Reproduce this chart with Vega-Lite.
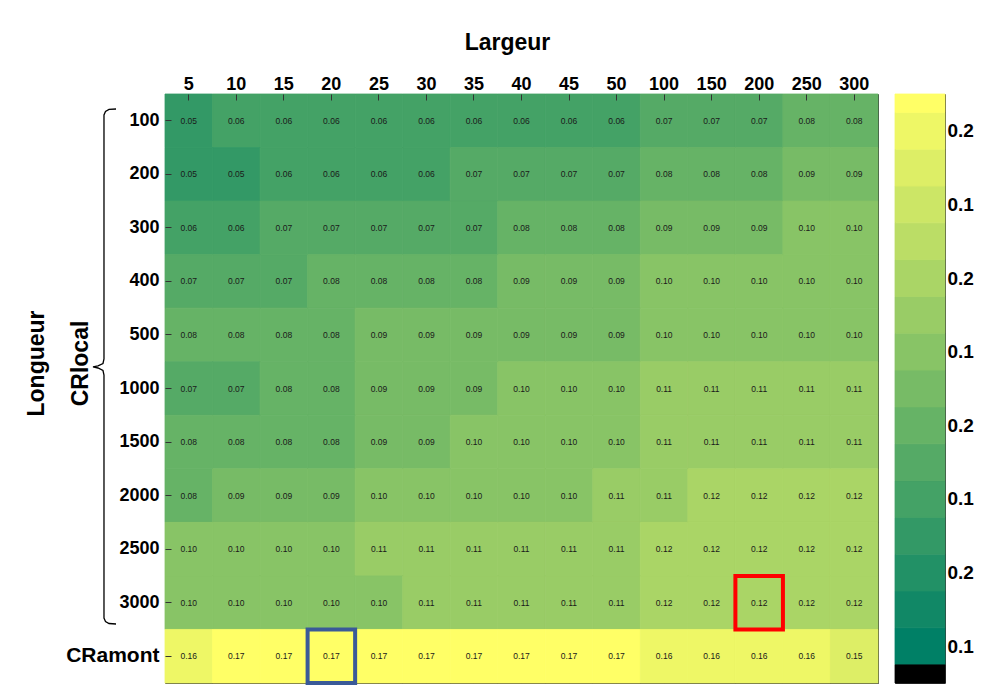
{
  "$schema": "https://vega.github.io/schema/vega-lite/v6.json",
  "padding": {"left": 24, "top": 30, "right": 0, "bottom": 0},
  "background": "white",
  "config": {
    "font": "Liberation Sans",
    "view": {"stroke": "#3a3a3a", "strokeWidth": 1},
    "axis": {"domain": false, "grid": false, "tickColor": "#333333", "tickWidth": 1, "labelColor": "#000000", "titleColor": "#000000", "labelFont": "Liberation Sans", "titleFont": "Liberation Sans", "labelFontWeight": "bold", "titleFontWeight": "bold"}
  },
  "datasets": {
    "cellules": [
      {"Longueur":"100","Largeur":"5","CR":0.05},{"Longueur":"100","Largeur":"10","CR":0.06},{"Longueur":"100","Largeur":"15","CR":0.06},{"Longueur":"100","Largeur":"20","CR":0.06},{"Longueur":"100","Largeur":"25","CR":0.06},{"Longueur":"100","Largeur":"30","CR":0.06},{"Longueur":"100","Largeur":"35","CR":0.06},{"Longueur":"100","Largeur":"40","CR":0.06},{"Longueur":"100","Largeur":"45","CR":0.06},{"Longueur":"100","Largeur":"50","CR":0.06},{"Longueur":"100","Largeur":"100","CR":0.07},{"Longueur":"100","Largeur":"150","CR":0.07},{"Longueur":"100","Largeur":"200","CR":0.07},{"Longueur":"100","Largeur":"250","CR":0.08},{"Longueur":"100","Largeur":"300","CR":0.08},
      {"Longueur":"200","Largeur":"5","CR":0.05},{"Longueur":"200","Largeur":"10","CR":0.05},{"Longueur":"200","Largeur":"15","CR":0.06},{"Longueur":"200","Largeur":"20","CR":0.06},{"Longueur":"200","Largeur":"25","CR":0.06},{"Longueur":"200","Largeur":"30","CR":0.06},{"Longueur":"200","Largeur":"35","CR":0.07},{"Longueur":"200","Largeur":"40","CR":0.07},{"Longueur":"200","Largeur":"45","CR":0.07},{"Longueur":"200","Largeur":"50","CR":0.07},{"Longueur":"200","Largeur":"100","CR":0.08},{"Longueur":"200","Largeur":"150","CR":0.08},{"Longueur":"200","Largeur":"200","CR":0.08},{"Longueur":"200","Largeur":"250","CR":0.09},{"Longueur":"200","Largeur":"300","CR":0.09},
      {"Longueur":"300","Largeur":"5","CR":0.06},{"Longueur":"300","Largeur":"10","CR":0.06},{"Longueur":"300","Largeur":"15","CR":0.07},{"Longueur":"300","Largeur":"20","CR":0.07},{"Longueur":"300","Largeur":"25","CR":0.07},{"Longueur":"300","Largeur":"30","CR":0.07},{"Longueur":"300","Largeur":"35","CR":0.07},{"Longueur":"300","Largeur":"40","CR":0.08},{"Longueur":"300","Largeur":"45","CR":0.08},{"Longueur":"300","Largeur":"50","CR":0.08},{"Longueur":"300","Largeur":"100","CR":0.09},{"Longueur":"300","Largeur":"150","CR":0.09},{"Longueur":"300","Largeur":"200","CR":0.09},{"Longueur":"300","Largeur":"250","CR":0.10},{"Longueur":"300","Largeur":"300","CR":0.10},
      {"Longueur":"400","Largeur":"5","CR":0.07},{"Longueur":"400","Largeur":"10","CR":0.07},{"Longueur":"400","Largeur":"15","CR":0.07},{"Longueur":"400","Largeur":"20","CR":0.08},{"Longueur":"400","Largeur":"25","CR":0.08},{"Longueur":"400","Largeur":"30","CR":0.08},{"Longueur":"400","Largeur":"35","CR":0.08},{"Longueur":"400","Largeur":"40","CR":0.09},{"Longueur":"400","Largeur":"45","CR":0.09},{"Longueur":"400","Largeur":"50","CR":0.09},{"Longueur":"400","Largeur":"100","CR":0.10},{"Longueur":"400","Largeur":"150","CR":0.10},{"Longueur":"400","Largeur":"200","CR":0.10},{"Longueur":"400","Largeur":"250","CR":0.10},{"Longueur":"400","Largeur":"300","CR":0.10},
      {"Longueur":"500","Largeur":"5","CR":0.08},{"Longueur":"500","Largeur":"10","CR":0.08},{"Longueur":"500","Largeur":"15","CR":0.08},{"Longueur":"500","Largeur":"20","CR":0.08},{"Longueur":"500","Largeur":"25","CR":0.09},{"Longueur":"500","Largeur":"30","CR":0.09},{"Longueur":"500","Largeur":"35","CR":0.09},{"Longueur":"500","Largeur":"40","CR":0.09},{"Longueur":"500","Largeur":"45","CR":0.09},{"Longueur":"500","Largeur":"50","CR":0.09},{"Longueur":"500","Largeur":"100","CR":0.10},{"Longueur":"500","Largeur":"150","CR":0.10},{"Longueur":"500","Largeur":"200","CR":0.10},{"Longueur":"500","Largeur":"250","CR":0.10},{"Longueur":"500","Largeur":"300","CR":0.10},
      {"Longueur":"1000","Largeur":"5","CR":0.07},{"Longueur":"1000","Largeur":"10","CR":0.07},{"Longueur":"1000","Largeur":"15","CR":0.08},{"Longueur":"1000","Largeur":"20","CR":0.08},{"Longueur":"1000","Largeur":"25","CR":0.09},{"Longueur":"1000","Largeur":"30","CR":0.09},{"Longueur":"1000","Largeur":"35","CR":0.09},{"Longueur":"1000","Largeur":"40","CR":0.10},{"Longueur":"1000","Largeur":"45","CR":0.10},{"Longueur":"1000","Largeur":"50","CR":0.10},{"Longueur":"1000","Largeur":"100","CR":0.11},{"Longueur":"1000","Largeur":"150","CR":0.11},{"Longueur":"1000","Largeur":"200","CR":0.11},{"Longueur":"1000","Largeur":"250","CR":0.11},{"Longueur":"1000","Largeur":"300","CR":0.11},
      {"Longueur":"1500","Largeur":"5","CR":0.08},{"Longueur":"1500","Largeur":"10","CR":0.08},{"Longueur":"1500","Largeur":"15","CR":0.08},{"Longueur":"1500","Largeur":"20","CR":0.08},{"Longueur":"1500","Largeur":"25","CR":0.09},{"Longueur":"1500","Largeur":"30","CR":0.09},{"Longueur":"1500","Largeur":"35","CR":0.10},{"Longueur":"1500","Largeur":"40","CR":0.10},{"Longueur":"1500","Largeur":"45","CR":0.10},{"Longueur":"1500","Largeur":"50","CR":0.10},{"Longueur":"1500","Largeur":"100","CR":0.11},{"Longueur":"1500","Largeur":"150","CR":0.11},{"Longueur":"1500","Largeur":"200","CR":0.11},{"Longueur":"1500","Largeur":"250","CR":0.11},{"Longueur":"1500","Largeur":"300","CR":0.11},
      {"Longueur":"2000","Largeur":"5","CR":0.08},{"Longueur":"2000","Largeur":"10","CR":0.09},{"Longueur":"2000","Largeur":"15","CR":0.09},{"Longueur":"2000","Largeur":"20","CR":0.09},{"Longueur":"2000","Largeur":"25","CR":0.10},{"Longueur":"2000","Largeur":"30","CR":0.10},{"Longueur":"2000","Largeur":"35","CR":0.10},{"Longueur":"2000","Largeur":"40","CR":0.10},{"Longueur":"2000","Largeur":"45","CR":0.10},{"Longueur":"2000","Largeur":"50","CR":0.11},{"Longueur":"2000","Largeur":"100","CR":0.11},{"Longueur":"2000","Largeur":"150","CR":0.12},{"Longueur":"2000","Largeur":"200","CR":0.12},{"Longueur":"2000","Largeur":"250","CR":0.12},{"Longueur":"2000","Largeur":"300","CR":0.12},
      {"Longueur":"2500","Largeur":"5","CR":0.10},{"Longueur":"2500","Largeur":"10","CR":0.10},{"Longueur":"2500","Largeur":"15","CR":0.10},{"Longueur":"2500","Largeur":"20","CR":0.10},{"Longueur":"2500","Largeur":"25","CR":0.11},{"Longueur":"2500","Largeur":"30","CR":0.11},{"Longueur":"2500","Largeur":"35","CR":0.11},{"Longueur":"2500","Largeur":"40","CR":0.11},{"Longueur":"2500","Largeur":"45","CR":0.11},{"Longueur":"2500","Largeur":"50","CR":0.11},{"Longueur":"2500","Largeur":"100","CR":0.12},{"Longueur":"2500","Largeur":"150","CR":0.12},{"Longueur":"2500","Largeur":"200","CR":0.12},{"Longueur":"2500","Largeur":"250","CR":0.12},{"Longueur":"2500","Largeur":"300","CR":0.12},
      {"Longueur":"3000","Largeur":"5","CR":0.10},{"Longueur":"3000","Largeur":"10","CR":0.10},{"Longueur":"3000","Largeur":"15","CR":0.10},{"Longueur":"3000","Largeur":"20","CR":0.10},{"Longueur":"3000","Largeur":"25","CR":0.10},{"Longueur":"3000","Largeur":"30","CR":0.11},{"Longueur":"3000","Largeur":"35","CR":0.11},{"Longueur":"3000","Largeur":"40","CR":0.11},{"Longueur":"3000","Largeur":"45","CR":0.11},{"Longueur":"3000","Largeur":"50","CR":0.11},{"Longueur":"3000","Largeur":"100","CR":0.12},{"Longueur":"3000","Largeur":"150","CR":0.12},{"Longueur":"3000","Largeur":"200","CR":0.12},{"Longueur":"3000","Largeur":"250","CR":0.12},{"Longueur":"3000","Largeur":"300","CR":0.12},
      {"Longueur":"CRamont","Largeur":"5","CR":0.16},{"Longueur":"CRamont","Largeur":"10","CR":0.17},{"Longueur":"CRamont","Largeur":"15","CR":0.17},{"Longueur":"CRamont","Largeur":"20","CR":0.17},{"Longueur":"CRamont","Largeur":"25","CR":0.17},{"Longueur":"CRamont","Largeur":"30","CR":0.17},{"Longueur":"CRamont","Largeur":"35","CR":0.17},{"Longueur":"CRamont","Largeur":"40","CR":0.17},{"Longueur":"CRamont","Largeur":"45","CR":0.17},{"Longueur":"CRamont","Largeur":"50","CR":0.17},{"Longueur":"CRamont","Largeur":"100","CR":0.16},{"Longueur":"CRamont","Largeur":"150","CR":0.16},{"Longueur":"CRamont","Largeur":"200","CR":0.16},{"Longueur":"CRamont","Largeur":"250","CR":0.16},{"Longueur":"CRamont","Largeur":"300","CR":0.15}
    ],
    "barre": [
      {"colonne":"barre","niveau":0,"bas":0,"haut":0.5},{"colonne":"barre","niveau":1,"bas":0.5,"haut":1.5},{"colonne":"barre","niveau":2,"bas":1.5,"haut":2.5},{"colonne":"barre","niveau":3,"bas":2.5,"haut":3.5},{"colonne":"barre","niveau":4,"bas":3.5,"haut":4.5},{"colonne":"barre","niveau":5,"bas":4.5,"haut":5.5},{"colonne":"barre","niveau":6,"bas":5.5,"haut":6.5},{"colonne":"barre","niveau":7,"bas":6.5,"haut":7.5},{"colonne":"barre","niveau":8,"bas":7.5,"haut":8.5},{"colonne":"barre","niveau":9,"bas":8.5,"haut":9.5},{"colonne":"barre","niveau":10,"bas":9.5,"haut":10.5},{"colonne":"barre","niveau":11,"bas":10.5,"haut":11.5},{"colonne":"barre","niveau":12,"bas":11.5,"haut":12.5},{"colonne":"barre","niveau":13,"bas":12.5,"haut":13.5},{"colonne":"barre","niveau":14,"bas":13.5,"haut":14.5},{"colonne":"barre","niveau":15,"bas":14.5,"haut":15.5},{"colonne":"barre","niveau":16,"bas":15.5,"haut":16}
    ],
    "accolade": [
      {"i":1,"bx":0.429,"by":0.280},{"i":2,"bx":0.304,"by":0.289},{"i":3,"bx":0.241,"by":0.327},{"i":4,"bx":0.214,"by":0.392},
      {"i":5,"bx":0.214,"by":4.949},{"i":6,"bx":0.196,"by":5.033},{"i":7,"bx":0.107,"by":5.079},{"i":8,"bx":0.018,"by":5.098},
      {"i":9,"bx":0.107,"by":5.117},{"i":10,"bx":0.196,"by":5.164},{"i":11,"bx":0.214,"by":5.248},{"i":12,"bx":0.214,"by":9.788},
      {"i":13,"bx":0.241,"by":9.851},{"i":14,"bx":0.304,"by":9.889},{"i":15,"bx":0.429,"by":9.898}
    ]
  },
  "spacing": 17,
  "bounds": "flush",
  "resolve": {"scale": {"color": "independent", "stroke": "independent"}},
  "hconcat": [
    {
      "width": 56,
      "height": 589,
      "view": {"stroke": null},
      "data": {"name": "accolade"},
      "mark": {"type": "line", "color": "#000000", "strokeWidth": 1.3, "clip": false},
      "encoding": {
        "x": {"field": "bx", "type": "quantitative", "axis": null, "scale": {"domain": [0, 1], "nice": false, "zero": false}},
        "y": {"field": "by", "type": "quantitative", "axis": null, "scale": {"domain": [0, 11], "nice": false, "zero": false, "reverse": true}},
        "order": {"field": "i", "type": "quantitative"}
      }
    },
    {
      "width": 713,
      "height": 589,
      "layer": [
        {
          "data": {"name": "cellules"},
          "mark": {"type": "rect", "strokeWidth": 0.8},
          "encoding": {
            "x": {"field": "Largeur", "type": "nominal",
              "scale": {"domain": ["5","10","15","20","25","30","35","40","45","50","100","150","200","250","300"]},
              "axis": {"orient": "top", "labelAngle": 0, "labelFontSize": 18, "tickSize": -6, "labelPadding": 7,
                "title": "Largeur", "titleFontSize": 23, "titleX": 342, "titleY": -45, "titleAlign": "center", "titleBaseline": "alphabetic"}},
            "y": {"field": "Longueur", "type": "nominal",
              "scale": {"domain": ["100","200","300","400","500","1000","1500","2000","2500","3000","CRamont"]},
              "axis": {"orient": "left", "labelFontSize": {"condition": {"test": "datum.value === 'CRamont'", "value": 21}, "value": 18}, "tickSize": -6, "labelPadding": 12,
                "title": ["Longueur", "CRlocal"], "titleFontSize": 23, "titleLineHeight": 44, "titleX": -122, "titleY": 269, "titleAngle": -90, "titleAlign": "center", "titleBaseline": "alphabetic"}},
            "color": {"field": "CR", "type": "quantitative",
              "scale": {"type": "threshold",
                "domain": [0.025,0.035,0.045,0.055,0.065,0.075,0.085,0.095,0.105,0.115,0.125,0.135,0.145,0.155,0.165],
                "range": ["#008066","#118866","#229166","#339966","#44a266","#55aa66","#66b366","#77bb66","#88c466","#99cc66","#aad566","#bbdd66","#cce666","#ddee66","#eef766","#ffff66"]},
              "legend": null},
            "stroke": {"field": "CR", "type": "quantitative",
              "scale": {"type": "threshold",
                "domain": [0.025,0.035,0.045,0.055,0.065,0.075,0.085,0.095,0.105,0.115,0.125,0.135,0.145,0.155,0.165],
                "range": ["#008066","#118866","#229166","#339966","#44a266","#55aa66","#66b366","#77bb66","#88c466","#99cc66","#aad566","#bbdd66","#cce666","#ddee66","#eef766","#ffff66"]},
              "legend": null}
          }
        },
        {
          "data": {"name": "cellules"},
          "mark": {"type": "text", "fontSize": 8.5, "color": "#1a1a1a", "font": "Liberation Sans"},
          "encoding": {
            "x": {"field": "Largeur", "type": "nominal",
              "scale": {"domain": ["5","10","15","20","25","30","35","40","45","50","100","150","200","250","300"]},
              "axis": {"orient": "bottom", "labels": false, "tickSize": -6, "title": null}},
            "y": {"field": "Longueur", "type": "nominal",
              "scale": {"domain": ["100","200","300","400","500","1000","1500","2000","2500","3000","CRamont"]},
              "axis": {"orient": "right", "labels": false, "tickSize": -6, "title": null}},
            "text": {"field": "CR", "type": "quantitative", "format": ".2f"}
          }
        },
        {
          "data": {"values": [{"Largeur": "200", "Longueur": "3000"}]},
          "mark": {"type": "rect", "filled": false, "color": "#ff0000", "strokeWidth": 4},
          "encoding": {
            "x": {"field": "Largeur", "type": "nominal", "axis": null,
              "scale": {"domain": ["5","10","15","20","25","30","35","40","45","50","100","150","200","250","300"]}},
            "y": {"field": "Longueur", "type": "nominal", "axis": null,
              "scale": {"domain": ["100","200","300","400","500","1000","1500","2000","2500","3000","CRamont"]}}
          }
        },
        {
          "data": {"values": [{"Largeur": "20", "Longueur": "CRamont"}]},
          "mark": {"type": "rect", "filled": false, "color": "#3a5a98", "strokeWidth": 4},
          "encoding": {
            "x": {"field": "Largeur", "type": "nominal", "axis": null,
              "scale": {"domain": ["5","10","15","20","25","30","35","40","45","50","100","150","200","250","300"]}},
            "y": {"field": "Longueur", "type": "nominal", "axis": null,
              "scale": {"domain": ["100","200","300","400","500","1000","1500","2000","2500","3000","CRamont"]}}
          }
        }
      ],
      "resolve": {"axis": {"x": "independent", "y": "independent"}}
    },
    {
      "width": 50,
      "height": 589,
      "data": {"name": "barre"},
      "layer": [
        {
          "mark": {"type": "rect", "strokeWidth": 0.8},
          "encoding": {
            "x": {"field": "colonne", "type": "nominal", "axis": null},
            "y": {"field": "bas", "type": "quantitative", "scale": {"domain": [0, 16], "nice": false, "zero": false},
              "axis": {"orient": "left", "labels": false, "tickSize": -6, "values": [1,3,5,7,9,11,13,15], "title": null}},
            "y2": {"field": "haut"},
            "color": {"field": "niveau", "type": "ordinal",
              "scale": {"domain": [0,1,2,3,4,5,6,7,8,9,10,11,12,13,14,15,16],
                "range": ["#000000","#008066","#118866","#229166","#339966","#44a266","#55aa66","#66b366","#77bb66","#88c466","#99cc66","#aad566","#bbdd66","#cce666","#ddee66","#eef766","#ffff66"]},
              "legend": null},
            "stroke": {"field": "niveau", "type": "ordinal",
              "scale": {"domain": [0,1,2,3,4,5,6,7,8,9,10,11,12,13,14,15,16],
                "range": ["#000000","#008066","#118866","#229166","#339966","#44a266","#55aa66","#66b366","#77bb66","#88c466","#99cc66","#aad566","#bbdd66","#cce666","#ddee66","#eef766","#ffff66"]},
              "legend": null}
          }
        },
        {
          "transform": [{"filter": "datum.niveau == 0"}],
          "mark": {"type": "rect", "color": "#000000"},
          "encoding": {
            "x": {"field": "colonne", "type": "nominal", "axis": null},
            "y": {"field": "bas", "type": "quantitative", "scale": {"domain": [0, 16], "nice": false, "zero": false},
              "axis": {"orient": "right", "tickSize": -6, "labelPadding": 8, "labelFontSize": 19, "values": [1,3,5,7,9,11,13,15],
                "labelExpr": "datum.value % 4 == 1 ? '0.1' : '0.2'", "title": null}},
            "y2": {"field": "haut"}
          }
        }
      ],
      "resolve": {"axis": {"y": "independent"}}
    }
  ]
}
